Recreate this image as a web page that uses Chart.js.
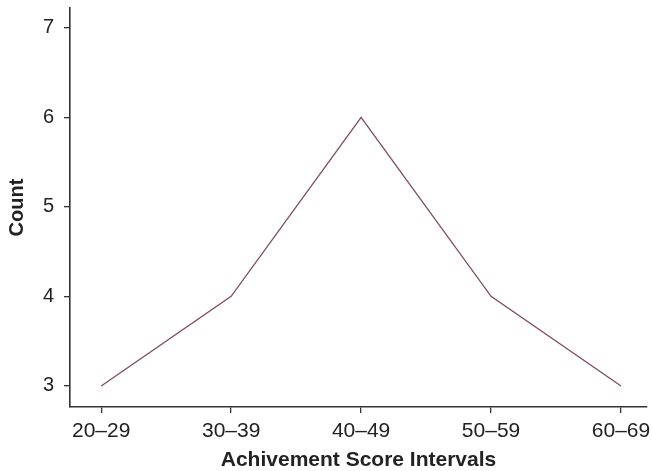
<!DOCTYPE html>
<html>
<head>
<meta charset="utf-8">
<script src="https://cdn.jsdelivr.net/npm/chart.js@4/dist/chart.umd.min.js"></script>
<style>
  html, body { margin: 0; padding: 0; background: #ffffff; }
  #wrap { width: 652px; height: 471px; }
</style>
</head>
<body>
<div id="wrap"><canvas id="chart" width="652" height="471"></canvas></div>
<script>
// Frequency polygon of achievement score intervals
const intervals = ['20–29', '30–39', '40–49', '50–59', '60–69'];
const counts = [3, 4, 6, 4, 3];
const countTicks = [3, 4, 5, 6, 7];

const FONT = "'Liberation Sans', Arial, Helvetica, sans-serif";
const AXIS_COLOR = '#333333';
const TEXT_COLOR = '#222222';
const LINE_COLOR = '#7e4a66';

const points = counts.map((c, i) => ({ x: i, y: c }));

new Chart(document.getElementById('chart'), {
  type: 'line',
  data: {
    datasets: [{
      data: points,
      borderColor: LINE_COLOR,
      borderWidth: 1.3,
      pointRadius: 0,
      tension: 0,
      fill: false
    }]
  },
  options: {
    responsive: false,
    animation: false,
    devicePixelRatio: 1,
    layout: { padding: { top: 8, right: 5, left: 0, bottom: 0 } },
    plugins: {
      legend: { display: false },
      tooltip: { enabled: false }
    },
    scales: {
      x: {
        type: 'linear',
        min: -0.24,
        max: 4.2,
        afterBuildTicks: (scale) => {
          scale.ticks = intervals.map((_, i) => ({ value: i }));
        },
        afterFit: (scale) => {
          scale.height = 64;
          scale.paddingLeft = 0;
          scale.paddingRight = 0;
        },
        ticks: {
          autoSkip: false,
          maxRotation: 0,
          padding: 6,
          color: TEXT_COLOR,
          font: { family: FONT, size: 21 },
          callback: (v) => intervals[v] ?? ''
        },
        grid: { display: true, drawOnChartArea: false, drawTicks: true, tickLength: 6, color: AXIS_COLOR, lineWidth: 1.3 },
        border: { display: true, color: AXIS_COLOR, width: 1.6 },
        title: {
          display: true,
          text: 'Achivement Score Intervals',
          color: TEXT_COLOR,
          font: { family: FONT, size: 21, weight: 'bold', lineHeight: 1 },
          padding: { top: 0, bottom: 0 }
        }
      },
      y: {
        type: 'linear',
        min: 2.765,
        max: 7.22,
        afterBuildTicks: (scale) => {
          scale.ticks = countTicks.map(v => ({ value: v }));
        },
        afterFit: (scale) => {
          scale.width = 70;
          scale.paddingTop = 0;
          scale.paddingBottom = 0;
        },
        ticks: {
          padding: 10,
          color: TEXT_COLOR,
          font: { family: FONT, size: 20 },
          callback: (v) => String(v)
        },
        grid: { display: true, drawOnChartArea: false, drawTicks: true, tickLength: 6, color: AXIS_COLOR, lineWidth: 1.3 },
        border: { display: true, color: AXIS_COLOR, width: 1.6 },
        title: {
          display: true,
          text: 'Count',
          color: TEXT_COLOR,
          font: { family: FONT, size: 20, weight: 'bold', lineHeight: 1 },
          padding: { top: 7, bottom: 0 }
        }
      }
    }
  }
});
</script>
</body>
</html>
